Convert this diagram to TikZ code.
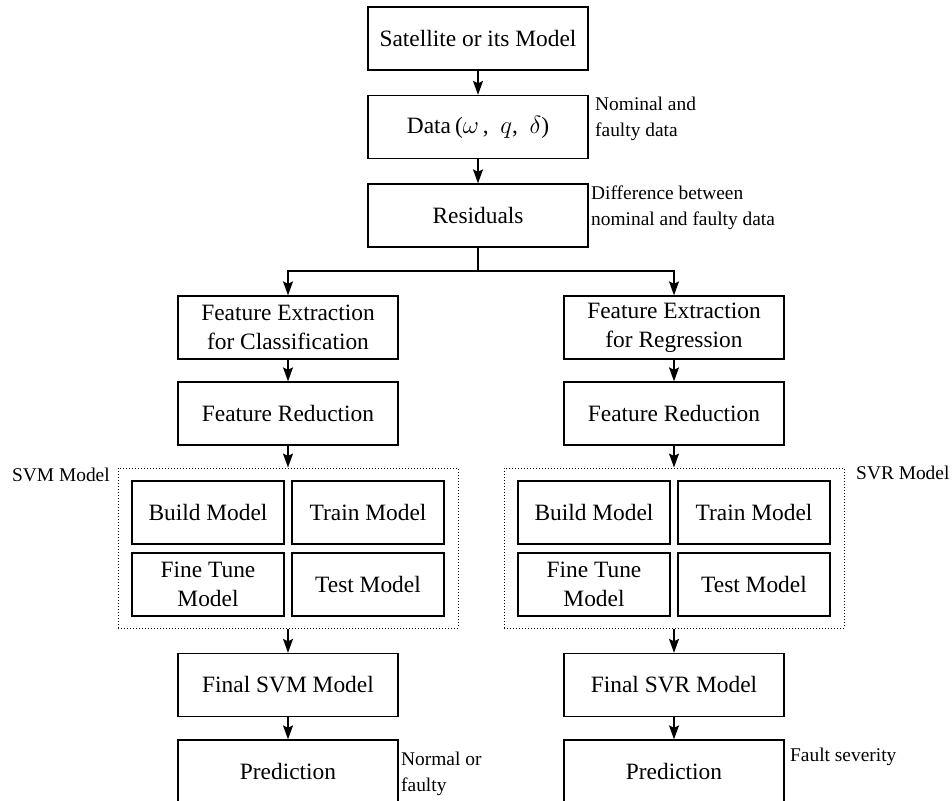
\documentclass[tikz,border=0pt]{standalone}
\usepackage{fontspec}
\setmainfont{Liberation Serif}
\usetikzlibrary{arrows.meta}

\begin{document}
\begin{tikzpicture}[x=1pt,y=-1pt]
\tikzset{box/.style = {draw, line width=1.3pt, minimum width=220pt, minimum height=63pt, align=center, inner sep=2pt, font=\fontsize{23.4}{29}\selectfont},
smallbox/.style = {box, minimum width=152pt},
note/.style = {anchor=north west, align=left, inner sep=0pt, font=\fontsize{19.4}{26}\selectfont},
group/.style = {draw, line width=1pt, dash pattern=on 1pt off 2pt, minimum width=340pt, minimum height=160pt, inner sep=0pt},
flow/.style = {line width=1.7pt, -{Stealth[length=14pt,width=10pt,inset=2.5pt]}}}
\def\colL{288}
\def\colR{674}
\def\colM{478}
\def\half{80}

\useasboundingbox (0,0) rectangle (952,800);

\node[box] (sat) at (\colM,38.5) {Satellite or its Model};
\node[box] (data) at (\colM,127) {Data\,($\omega$\,,\ \ $q$,\ \ $\delta$)};
\node[box] (res) at (\colM,215.5) {Residuals};
\coordinate (split) at (\colM,271);

\node[box] (feL) at (\colL,327.5) {Feature Extraction\\for Classification};
\node[box] (frL) at (\colL,413.5) {Feature Reduction};
\node[group] (svm) at (\colL,548) {};
\node[smallbox] (buildL) at (\colL-\half,512.5) {Build Model};
\node[smallbox] (trainL) at (\colL+\half,512.5) {Train Model};
\node[smallbox] (tuneL) at (\colL-\half,584.5) {Fine Tune\\Model};
\node[smallbox] (testL) at (\colL+\half,584.5) {Test Model};
\node[box] (finL) at (\colL,685) {Final SVM Model};
\node[box] (preL) at (\colL,771.5) {Prediction};

\node[box] (feR) at (\colR,327.5) {Feature Extraction\\for Regression};
\node[box] (frR) at (\colR,413.5) {Feature Reduction};
\node[group] (svr) at (\colR,548) {};
\node[smallbox] (buildR) at (\colR-\half,512.5) {Build Model};
\node[smallbox] (trainR) at (\colR+\half,512.5) {Train Model};
\node[smallbox] (tuneR) at (\colR-\half,584.5) {Fine Tune\\Model};
\node[smallbox] (testR) at (\colR+\half,584.5) {Test Model};
\node[box] (finR) at (\colR,685) {Final SVR Model};
\node[box] (preR) at (\colR,771.5) {Prediction};

\node[note] (dataNote) at (595,97) {Nominal and\\faulty data};
\node[note] (resNote) at (591,186) {Difference between\\nominal and faulty data};
\node[note, anchor=west] (svmNote) at (12,475) {SVM Model};
\node[note, anchor=west] (svrNote) at (856,473) {SVR Model};
\node[note] (preLNote) at (401,752) {Normal or\\faulty};
\node[note] (preRNote) at (790,748) {Fault severity};

\draw[flow] (sat) -- (data);
\draw[flow] (data) -- (res);
\draw[line width=1.7pt] (res) -- (split);
\draw[flow] (split) -| (feL);
\draw[flow] (split) -| (feR);
\draw[flow] (feL) -- (frL);
\draw[flow] (frL) -- (svm);
\draw[flow] (svm) -- (finL);
\draw[flow] (finL) -- (preL);
\draw[flow] (feR) -- (frR);
\draw[flow] (frR) -- (svr);
\draw[flow] (svr) -- (finR);
\draw[flow] (finR) -- (preR);
\end{tikzpicture}
\end{document}
